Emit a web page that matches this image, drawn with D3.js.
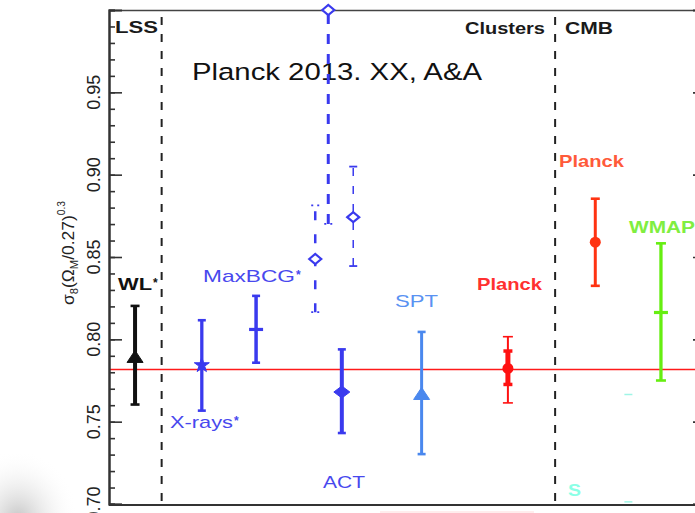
<!DOCTYPE html>
<html>
<head>
<meta charset="utf-8">
<script src="https://cdn.jsdelivr.net/npm/d3@7"></script>
<style>
body { margin: 0; background: #fff; }
svg { display: block; }
text { font-family: "Liberation Sans", Arial, sans-serif; }
</style>
</head>
<body>
<script>
var width = 695;
var height = 513;

// sigma8 (Omega_m/0.27)^0.3 constraints, x in slot units
var names = ["WL", "X-rays", "MaxBCG", "ACT", "SPT", "Planck", "Planck", "WMAP"];
var xpos = [0.48, 1.71, 2.71, 4.29, 5.76, 7.35, 8.96, 10.17];
var centre = [0.789, 0.7843, 0.806, 0.768, 0.7665, 0.7823, 0.859, 0.8163];
var lower = [0.7604, 0.7567, 0.7858, 0.7431, 0.7303, 0.7614, 0.8325, 0.775];
var upper = [0.8203, 0.8116, 0.8264, 0.7939, 0.8045, 0.8016, 0.8854, 0.8583];

// Planck SZ inner (statistical) bar
var innerLow = 0.7726;
var innerHigh = 0.7929;

// dashed blue cluster estimates
var dashX = [3.80, 4.04, 4.50];
var dashMid = [0.8488, 1.0, 0.8742];
var dashLow = [0.8165, 0.8701, 0.8445];
var dashHigh = [0.8813, 1.05, 0.9049];

// faint cyan bar, only caps visible
var cyanX = 9.57;
var cyanLow = 0.7013;
var cyanHigh = 0.7665;

var refLine = 0.7817;
var dividers = [0.97, 8.22];
var majorTicks = [0.70, 0.75, 0.80, 0.85, 0.90, 0.95];
var minorTicks = d3.range(0.70, 1.0001, 0.01);

// styles
var colors = ["#111111", "#3a3aee", "#3a3aee", "#3a3aee", "#4a88ee", "#ff1111", "#ff3311", "#66ee11"];
var lineW = [4, 3.3, 3.5, 4, 3, 2, 3, 3.3];
var capW = [9, 8, 8, 8, 8, 10, 9, 10];
var markers = ["tri", "star", "tick", "diamond", "tri", "dot", "dot", "tick"];

var labels = [
  {t: "WL", sup: "*", x: 0.166, y: 0.830, w: 34, c: "#111", b: true},
  {t: "X-rays", sup: "*", x: 1.124, y: 0.7462, w: 63, c: "#4848ee", b: false},
  {t: "MaxBCG", sup: "*", x: 1.732, y: 0.8348, w: 92, c: "#4848ee", b: false},
  {t: "ACT", x: 3.943, y: 0.7097, w: 42, c: "#4848ee", b: false},
  {t: "SPT", x: 5.27, y: 0.8196, w: 43, c: "#5a92f2", b: false},
  {t: "Planck", x: 6.781, y: 0.830, w: 65, c: "#ff3030", b: true},
  {t: "Planck", x: 8.292, y: 0.9047, w: 65, c: "#ff5a3a", b: true},
  {t: "WMAP", x: 9.582, y: 0.8646, w: 66, c: "#80ee40", b: true},
  {t: "S", x: 8.457, y: 0.7049, w: 13, c: "#8affe6", b: true}
];

var svg = d3.select("body")
  .append("svg")
  .attr("width", width)
  .attr("height", height);

var xScale = d3.scaleLinear().domain([0, 11]).range([109, 706]);
var yScale = d3.scaleLinear().domain([0.70, 1.00]).range([504, 10]);

// shadow blob in the bottom-left corner
var defs = svg.append("defs");
var grad = defs.append("radialGradient").attr("id", "shade");
grad.append("stop").attr("offset", "0%").attr("stop-color", "#c4c4c4");
grad.append("stop").attr("offset", "100%").attr("stop-color", "#fff").attr("stop-opacity", 0);
svg.append("ellipse")
  .attr("cx", 18).attr("cy", 520)
  .attr("rx", 60).attr("ry", 70)
  .attr("fill", "url(#shade)");

defs.append("clipPath").attr("id", "plot")
  .append("rect").attr("x", 109).attr("y", 6).attr("width", 600).attr("height", 499);

// reference line
var refY = Math.round(yScale(refLine)) + 0.5;
svg.append("rect")
  .attr("x", 109).attr("width", width - 109)
  .attr("y", refY - 0.75).attr("height", 1.5)
  .attr("fill", "#ff1a1a");

// section dividers
svg.selectAll(".divider")
  .data(dividers)
  .enter()
  .append("line")
    .attr("class", "divider")
    .attr("x1", function(d) { return xScale(d); })
    .attr("x2", function(d) { return xScale(d); })
    .attr("y1", 17).attr("y2", 505)
    .attr("stroke", "#222").attr("stroke-width", 2)
    .attr("stroke-dasharray", "8,9");

// frame
svg.append("line").attr("x1", 109).attr("x2", width).attr("y1", 10.5).attr("y2", 10.5)
  .attr("stroke", "#444").attr("stroke-width", 1.6);
svg.append("line").attr("x1", 109).attr("x2", width).attr("y1", 505).attr("y2", 505)
  .attr("stroke", "#333").attr("stroke-width", 2.2);
svg.append("line").attr("x1", 380).attr("x2", 534).attr("y1", 512).attr("y2", 512)
  .attr("stroke", "#ffdcdc").attr("stroke-width", 1.2);

// left axis, ticks inside
var leftMinor = svg.append("g")
  .attr("transform", "translate(109,0)")
  .call(d3.axisRight(yScale).tickValues(minorTicks).tickSize(6).tickFormat(""));
var leftMajor = svg.append("g")
  .attr("transform", "translate(109,0)")
  .call(d3.axisRight(yScale).tickValues(majorTicks).tickSize(13).tickFormat(""));
var rightMajor = svg.append("g")
  .attr("transform", "translate(706,0)")
  .call(d3.axisLeft(yScale).tickValues(majorTicks).tickSize(13).tickFormat(""));
[leftMinor, leftMajor, rightMajor].forEach(function(g) {
  g.select(".domain").attr("stroke", "#333").attr("stroke-width", 2);
  g.selectAll(".tick line").attr("stroke", "#333").attr("stroke-width", 1.6);
});

svg.selectAll(".ylab")
  .data(majorTicks)
  .enter()
  .append("text")
    .attr("class", "ylab")
    .attr("transform", function(d) { return "translate(100," + yScale(d) + ") rotate(-90)"; })
    .attr("text-anchor", "middle")
    .attr("font-size", 18)
    .attr("fill", "#222")
    .text(function(d) { return d.toFixed(2); });

// y title
var title = svg.append("text")
  .attr("transform", "translate(74,253) rotate(-90)")
  .attr("text-anchor", "middle")
  .attr("font-size", 17)
  .attr("fill", "#222")
  .attr("textLength", 104).attr("lengthAdjust", "spacingAndGlyphs");
title.append("tspan").text("\u03c3");
title.append("tspan").attr("font-size", 11).attr("dy", 4).text("8");
title.append("tspan").attr("dy", -4).text("(\u03a9");
title.append("tspan").attr("font-size", 11).attr("dy", 4).text("M");
title.append("tspan").attr("dy", -4).text("/0.27)");
title.append("tspan").attr("font-size", 10).attr("dy", -9).text("0.3");

// section headers
svg.append("text").attr("x", 115).attr("y", 33).attr("font-size", 16).attr("font-weight", "bold")
  .attr("fill", "#1a1a1a").attr("textLength", 43).attr("lengthAdjust", "spacingAndGlyphs").text("LSS");
svg.append("text").attr("x", 465).attr("y", 34).attr("font-size", 16).attr("font-weight", "bold")
  .attr("fill", "#1a1a1a").attr("textLength", 80).attr("lengthAdjust", "spacingAndGlyphs").text("Clusters");
svg.append("text").attr("x", 565).attr("y", 34).attr("font-size", 16).attr("font-weight", "bold")
  .attr("fill", "#1a1a1a").attr("textLength", 48).attr("lengthAdjust", "spacingAndGlyphs").text("CMB");

svg.append("text")
  .attr("x", 192).attr("y", 80)
  .attr("font-family", "'DejaVu Sans', sans-serif")
  .attr("font-size", 24.5)
  .attr("fill", "#111")
  .attr("textLength", 290).attr("lengthAdjust", "spacingAndGlyphs")
  .text("Planck 2013. XX, A&A");

// dashed cluster bars
var plot = svg.append("g").attr("clip-path", "url(#plot)");
var dashW = [2.5, 3, 1.5];
var dashPat = ["9,14", "10,10", "8,10"];
var dashed = plot.selectAll(".dashed")
  .data(dashX)
  .enter()
  .append("g")
    .attr("class", "dashed")
    .attr("transform", function(d) { return "translate(" + xScale(d) + ",0)"; });
dashed.append("line")
  .attr("y1", function(d, i) { return yScale(dashLow[i]); })
  .attr("y2", function(d, i) { return yScale(dashHigh[i]); })
  .attr("stroke", "#3a3aee")
  .attr("stroke-width", function(d, i) { return dashW[i]; })
  .attr("stroke-dasharray", function(d, i) { return dashPat[i]; });
dashed.selectAll(".dcap")
  .data(function(d, i) { return [{v: dashLow[i], i: i}, {v: dashHigh[i], i: i}]; })
  .enter()
  .append("line")
    .attr("x1", -4).attr("x2", 4)
    .attr("y1", function(d) { return yScale(d.v); })
    .attr("y2", function(d) { return yScale(d.v); })
    .attr("stroke", "#3a3aee")
    .attr("stroke-width", 1.8)
    .attr("stroke-dasharray", function(d) { return d.i === 2 ? null : "2,4"; });
svg.selectAll(".dmark")
  .data(dashX)
  .enter()
  .append("path")
    .attr("class", "dmark")
    .attr("transform", function(d, i) { return "translate(" + xScale(d) + "," + yScale(dashMid[i]) + ")"; })
    .attr("d", "M-6,0L0,-5L6,0L0,5Z")
    .attr("fill", "#fff")
    .attr("stroke", "#3a3aee")
    .attr("stroke-width", 2.2);

// cyan caps
svg.selectAll(".ccap")
  .data([cyanLow, cyanHigh])
  .enter()
  .append("line")
    .attr("x1", xScale(cyanX) - 4).attr("x2", xScale(cyanX) + 4)
    .attr("y1", function(d) { return yScale(d); })
    .attr("y2", function(d) { return yScale(d); })
    .attr("stroke", "#9ff5e6").attr("stroke-width", 1.5);

// main error bars
var bars = svg.selectAll(".bar")
  .data(names)
  .enter()
  .append("g")
    .attr("class", "bar")
    .attr("transform", function(d, i) { return "translate(" + xScale(xpos[i]) + ",0)"; });
bars.append("line")
  .attr("y1", function(d, i) { return yScale(lower[i]); })
  .attr("y2", function(d, i) { return yScale(upper[i]); })
  .attr("stroke", function(d, i) { return colors[i]; })
  .attr("stroke-width", function(d, i) { return lineW[i]; });
bars.selectAll(".cap")
  .data(function(d, i) { return [{v: lower[i], i: i}, {v: upper[i], i: i}]; })
  .enter()
  .append("line")
    .attr("x1", function(d) { return -capW[d.i] / 2; })
    .attr("x2", function(d) { return capW[d.i] / 2; })
    .attr("y1", function(d) { return yScale(d.v); })
    .attr("y2", function(d) { return yScale(d.v); })
    .attr("stroke", function(d) { return colors[d.i]; })
    .attr("stroke-width", function(d) { return d.i === 5 ? 1.6 : 2.6; });

// Planck SZ inner bar
var sz = bars.filter(function(d, i) { return i === 5; });
sz.append("line")
  .attr("y1", yScale(innerLow)).attr("y2", yScale(innerHigh))
  .attr("stroke", colors[5]).attr("stroke-width", 5);
sz.selectAll(".icap")
  .data([innerLow, innerHigh])
  .enter()
  .append("line")
    .attr("x1", -4.5).attr("x2", 4.5)
    .attr("y1", function(d) { return yScale(d); })
    .attr("y2", function(d) { return yScale(d); })
    .attr("stroke", colors[5]).attr("stroke-width", 3.5);

var shapes = {
  tri: "M-8,5L0,-7L8,5Z",
  diamond: "M-8,0L0,-6L8,0L0,6Z",
  star: d3.symbol().type(d3.symbolStar).size(70)(),
  tick: "M-7,-1.6H7V1.6H-7Z"
};
bars.each(function(d, i) {
  var g = d3.select(this);
  var m = markers[i];
  if (m === "dot") {
    g.append("circle").attr("cy", yScale(centre[i])).attr("r", 5.5).attr("fill", colors[i]);
  } else {
    g.append("path")
      .attr("transform", "translate(0," + yScale(centre[i]) + ")")
      .attr("d", shapes[m])
      .attr("fill", colors[i])
      .attr("stroke", colors[i])
      .attr("stroke-width", m === "tick" ? 0 : 1);
  }
});

// labels
var lab = svg.selectAll(".lab")
  .data(labels)
  .enter()
  .append("g")
    .attr("class", "lab");
lab.append("text")
  .attr("x", function(d) { return xScale(d.x); })
  .attr("y", function(d) { return yScale(d.y); })
  .attr("font-size", 17)
  .attr("font-weight", function(d) { return d.b ? "bold" : "normal"; })
  .attr("fill", function(d) { return d.c; })
  .attr("textLength", function(d) { return d.w; })
  .attr("lengthAdjust", "spacingAndGlyphs")
  .text(function(d) { return d.t; });
lab.filter(function(d) { return d.sup; })
  .append("text")
    .attr("x", function(d) { return xScale(d.x) + d.w + 1; })
    .attr("y", function(d) { return yScale(d.y) - 3; })
    .attr("font-size", 12)
    .attr("font-weight", "bold")
    .attr("fill", function(d) { return d.c; })
    .text(function(d) { return d.sup; });
</script>
</body>
</html>
